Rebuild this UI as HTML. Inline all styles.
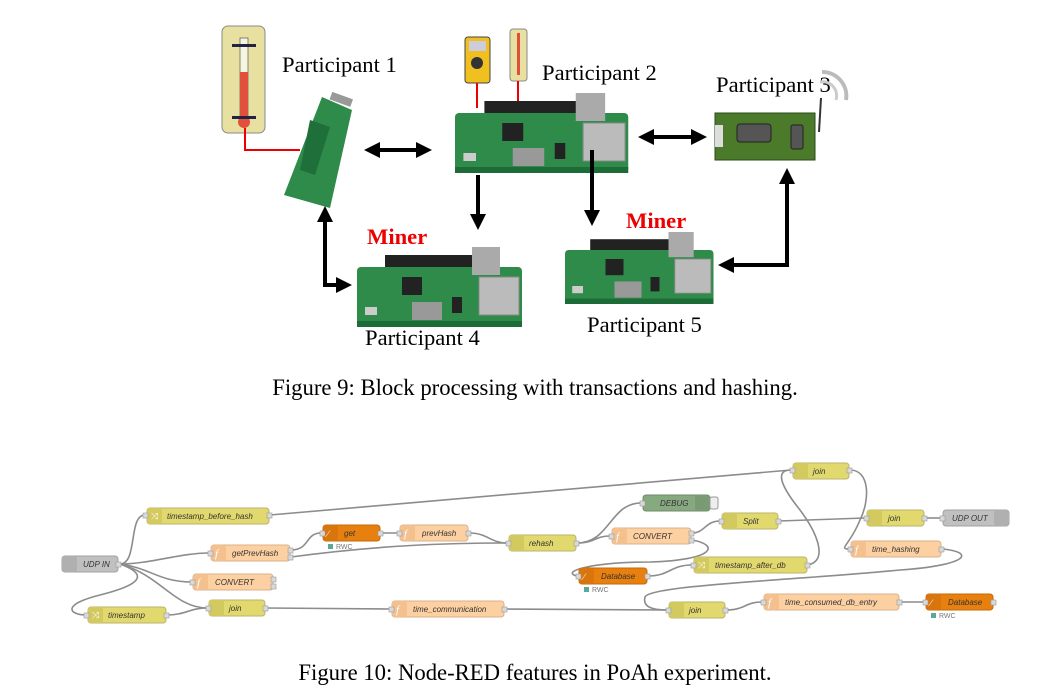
<!DOCTYPE html>
<html><head><meta charset="utf-8"><style>
html,body{margin:0;padding:0;background:#fff;width:1061px;height:691px;overflow:hidden}
svg{display:block}
.cap{font-family:"Liberation Serif",serif;font-size:22.7px;fill:#000}
.lbl{font-family:"Liberation Serif",serif;font-size:22.6px;fill:#000}
.miner{font-family:"Liberation Serif",serif;font-size:22.6px;font-weight:bold;fill:#e00}
.n{font-family:"Liberation Sans",sans-serif;font-size:8px;font-style:italic;fill:#333}
.w{fill:none;stroke:#8c8c8c;stroke-width:1.6}
.p{fill:#d9d9d9;stroke:#999;stroke-width:.6}
.r{font-family:"Liberation Sans",sans-serif;font-size:7px;fill:#777}
</style></head><body>
<svg width="1061" height="691" viewBox="0 0 1061 691">
<defs>
<marker id="ah" markerWidth="4" markerHeight="4" refX="2" refY="2" orient="auto-start-reverse" markerUnits="strokeWidth"><path d="M0,0 L4,2 L0,4 z" fill="#000"/></marker>
<g id="pi">
<rect x="0" y="20" width="165" height="60" rx="4" fill="#2e8b4a"/>
<rect x="0" y="74" width="165" height="6" fill="#1d6b36"/>
<rect x="28" y="8" width="95" height="12" fill="#222"/>
<rect x="115" y="0" width="28" height="28" fill="#aaa"/>
<rect x="122" y="30" width="40" height="38" fill="#bbb" stroke="#888"/>
<rect x="45" y="30" width="20" height="18" fill="#222"/>
<rect x="55" y="55" width="30" height="18" fill="#999"/>
<rect x="95" y="50" width="10" height="16" fill="#222"/>
<rect x="8" y="60" width="12" height="8" fill="#ccc"/>
</g>
</defs>

<rect x="222" y="26" width="43" height="107" rx="6" fill="#e8e0a0" stroke="#888"/>
<rect x="240" y="38" width="8" height="82" fill="#f5f5e0" stroke="#555" stroke-width=".7"/>
<rect x="240" y="72" width="8" height="50" fill="#e0503a"/>
<circle cx="244" cy="122" r="6" fill="#e0503a"/>
<rect x="232" y="44" width="24" height="3" fill="#224"/>
<rect x="232" y="116" width="24" height="3" fill="#224"/>
<polyline points="245,128 245,150 300,150" fill="none" stroke="#e00" stroke-width="2"/>
<text x="282" y="72" class="lbl">Participant 1</text>
<polygon points="322,97 352,110 330,208 284,195" fill="#2e8b4a"/>
<polygon points="310,120 330,127 315,175 300,170" fill="#1f6f3a"/>
<rect x="330" y="95" width="22" height="8" fill="#999" transform="rotate(20 340 100)"/>
<line x1="372" y1="150" x2="424" y2="150" stroke="#000" stroke-width="4" marker-start="url(#ah)" marker-end="url(#ah)"/>
<rect x="465" y="37" width="25" height="46" rx="3" fill="#f0c020" stroke="#444"/>
<rect x="469" y="41" width="17" height="10" fill="#ccd"/>
<circle cx="477" cy="63" r="6" fill="#333"/>
<rect x="510" y="29" width="17" height="52" rx="3" fill="#e8e0a0" stroke="#888"/>
<rect x="517" y="33" width="3" height="42" fill="#e0503a"/>
<line x1="477" y1="83" x2="477" y2="108" stroke="#e00" stroke-width="2"/>
<line x1="518" y1="81" x2="518" y2="108" stroke="#e00" stroke-width="2"/>
<text x="542" y="80" class="lbl">Participant 2</text>
<use href="#pi" transform="translate(455,93) scale(1.05,1)"/>
<line x1="646" y1="137" x2="699" y2="137" stroke="#000" stroke-width="4" marker-start="url(#ah)" marker-end="url(#ah)"/>
<text x="716" y="92" class="lbl">Participant 3</text>
<path d="M822,72 A24,24 0 0 1 846,100" fill="none" stroke="#bbb" stroke-width="4"/>
<path d="M820,82 A14,14 0 0 1 836,100" fill="none" stroke="#ccc" stroke-width="3"/>
<line x1="821" y1="98" x2="819" y2="132" stroke="#333" stroke-width="2"/>
<rect x="715" y="113" width="100" height="47" fill="#4a7a2a" stroke="#2b4a18"/>
<rect x="715" y="125" width="8" height="22" fill="#ddd"/>
<rect x="737" y="124" width="34" height="18" rx="3" fill="#555" stroke="#222"/>
<rect x="791" y="125" width="12" height="24" rx="2" fill="#555" stroke="#222"/>
<line x1="478" y1="175" x2="478" y2="222" stroke="#000" stroke-width="4" marker-end="url(#ah)"/>
<line x1="592" y1="150" x2="592" y2="218" stroke="#000" stroke-width="4" marker-end="url(#ah)"/>
<text x="367" y="244" class="miner">Miner</text>
<use href="#pi" transform="translate(357,247)"/>
<text x="365" y="345" class="lbl">Participant 4</text>
<text x="626" y="228" class="miner">Miner</text>
<use href="#pi" transform="translate(565,232) scale(0.9,0.9)"/>
<text x="587" y="332" class="lbl">Participant 5</text>
<polyline points="325,214 325,285 344,285" fill="none" stroke="#000" stroke-width="4" marker-start="url(#ah)" marker-end="url(#ah)"/>
<polyline points="787,176 787,265 726,265" fill="none" stroke="#000" stroke-width="4" marker-start="url(#ah)" marker-end="url(#ah)"/>

<text x="535" y="395" class="cap" text-anchor="middle">Figure 9: Block processing with transactions and hashing.</text>

<path class="w" d="M120,564 C138,564 128,515 145,515"/>
<path class="w" d="M120,564 C150,564 180,553 209,553"/>
<path class="w" d="M120,564 C150,568 160,582 191,582"/>
<path class="w" d="M120,564 C160,575 175,608 207,608"/>
<path class="w" d="M120,564 C150,575 140,585 100,595 C60,605 70,615 86,615"/>
<path class="w" d="M167,615 C185,615 190,608 207,608"/>
<path class="w" d="M270,515 L791,470"/>
<path class="w" d="M291,550 C310,550 305,533 321,533"/>
<path class="w" d="M291,557 C380,545 450,543 507,543"/>
<path class="w" d="M381,533 L398,533"/>
<path class="w" d="M469,533 C488,533 490,543 507,543"/>
<path class="w" d="M577,543 C610,543 610,503 641,503"/>
<path class="w" d="M577,543 C595,543 595,536 610,536"/>
<path class="w" d="M692,533 C705,533 705,521 720,521"/>
<path class="w" d="M692,540 C720,545 715,560 650,562 C590,562 560,572 577,576"/>
<path class="w" d="M648,576 C670,576 670,565 692,565"/>
<path class="w" d="M808,565 C830,560 815,530 800,510 C780,485 775,470 791,470"/>
<path class="w" d="M850,470 C870,470 870,500 860,520 C850,545 838,549 849,549"/>
<path class="w" d="M779,521 L865,518"/>
<path class="w" d="M925,518 L941,518"/>
<path class="w" d="M942,549 C975,552 970,565 900,570 C800,580 650,585 645,597 C642,608 655,610 667,610"/>
<path class="w" d="M505,609 L667,610"/>
<path class="w" d="M266,608 L390,609"/>
<path class="w" d="M726,610 C745,610 745,602 762,602"/>
<path class="w" d="M900,602 L924,602"/>

<g>
<rect x="147" y="508" width="122" height="16" rx="3" fill="#e2d96e" stroke="#bbb36a"/><rect x="147" y="508" width="15" height="16" rx="3" fill="#d3ca5f"/><text x="151" y="519" font-size="9" fill="#fff">⤨</text><text x="167" y="519" class="n">timestamp_before_hash</text>
<rect x="88" y="607" width="78" height="16" rx="3" fill="#e2d96e" stroke="#bbb36a"/><rect x="88" y="607" width="15" height="16" rx="3" fill="#d3ca5f"/><text x="92" y="618" font-size="9" fill="#fff">⤨</text><text x="108" y="618" class="n">timestamp</text>
<rect x="209" y="600" width="56" height="16" rx="3" fill="#e2d96e" stroke="#bbb36a"/><rect x="209" y="600" width="15" height="16" rx="3" fill="#d3ca5f"/><text x="229" y="611" class="n">join</text>
<rect x="509" y="535" width="67" height="16" rx="3" fill="#e2d96e" stroke="#bbb36a"/><rect x="509" y="535" width="15" height="16" rx="3" fill="#d3ca5f"/><text x="529" y="546" class="n">rehash</text>
<rect x="793" y="463" width="56" height="16" rx="3" fill="#e2d96e" stroke="#bbb36a"/><rect x="793" y="463" width="15" height="16" rx="3" fill="#d3ca5f"/><text x="813" y="474" class="n">join</text>
<rect x="722" y="513" width="56" height="16" rx="3" fill="#e2d96e" stroke="#bbb36a"/><rect x="722" y="513" width="15" height="16" rx="3" fill="#d3ca5f"/><text x="743" y="524" class="n">Split</text>
<rect x="867" y="510" width="57" height="16" rx="3" fill="#e2d96e" stroke="#bbb36a"/><rect x="867" y="510" width="15" height="16" rx="3" fill="#d3ca5f"/><text x="888" y="521" class="n">join</text>
<rect x="694" y="557" width="113" height="16" rx="3" fill="#e2d96e" stroke="#bbb36a"/><rect x="694" y="557" width="15" height="16" rx="3" fill="#d3ca5f"/><text x="698" y="568" font-size="9" fill="#fff">⤨</text><text x="715" y="568" class="n">timestamp_after_db</text>
<rect x="669" y="602" width="56" height="16" rx="3" fill="#e2d96e" stroke="#bbb36a"/><rect x="669" y="602" width="15" height="16" rx="3" fill="#d3ca5f"/><text x="689" y="613" class="n">join</text>
<rect x="211" y="545" width="79" height="16" rx="3" fill="#fdd0a2" stroke="#d9b08a"/><rect x="211" y="545" width="15" height="16" rx="3" fill="#f3c08e"/><text x="215" y="557" font-size="11" fill="#fff" font-style="italic">f</text><text x="232" y="556" class="n">getPrevHash</text>
<rect x="193" y="574" width="80" height="16" rx="3" fill="#fdd0a2" stroke="#d9b08a"/><rect x="193" y="574" width="15" height="16" rx="3" fill="#f3c08e"/><text x="197" y="586" font-size="11" fill="#fff" font-style="italic">f</text><text x="215" y="585" class="n">CONVERT</text>
<rect x="400" y="525" width="68" height="16" rx="3" fill="#fdd0a2" stroke="#d9b08a"/><rect x="400" y="525" width="15" height="16" rx="3" fill="#f3c08e"/><text x="404" y="537" font-size="11" fill="#fff" font-style="italic">f</text><text x="422" y="536" class="n">prevHash</text>
<rect x="392" y="601" width="112" height="16" rx="3" fill="#fdd0a2" stroke="#d9b08a"/><rect x="392" y="601" width="15" height="16" rx="3" fill="#f3c08e"/><text x="396" y="613" font-size="11" fill="#fff" font-style="italic">f</text><text x="413" y="612" class="n">time_communication</text>
<rect x="612" y="528" width="79" height="16" rx="3" fill="#fdd0a2" stroke="#d9b08a"/><rect x="612" y="528" width="15" height="16" rx="3" fill="#f3c08e"/><text x="616" y="540" font-size="11" fill="#fff" font-style="italic">f</text><text x="633" y="539" class="n">CONVERT</text>
<rect x="851" y="541" width="90" height="16" rx="3" fill="#fdd0a2" stroke="#d9b08a"/><rect x="851" y="541" width="15" height="16" rx="3" fill="#f3c08e"/><text x="855" y="553" font-size="11" fill="#fff" font-style="italic">f</text><text x="872" y="552" class="n">time_hashing</text>
<rect x="764" y="594" width="135" height="16" rx="3" fill="#fdd0a2" stroke="#d9b08a"/><rect x="764" y="594" width="15" height="16" rx="3" fill="#f3c08e"/><text x="768" y="606" font-size="11" fill="#fff" font-style="italic">f</text><text x="785" y="605" class="n">time_consumed_db_entry</text>
<rect x="323" y="525" width="57" height="16" rx="3" fill="#e8800f" stroke="#c46a0a"/><rect x="323" y="525" width="15" height="16" rx="3" fill="#d8760d"/><text x="327" y="537" font-size="10" fill="#fff">∕</text><text x="344" y="536" class="n">get</text>
<rect x="328" y="544" width="5" height="5" fill="#5a9"/><text x="336" y="549" class="r">RWC</text>
<rect x="579" y="568" width="68" height="16" rx="3" fill="#e8800f" stroke="#c46a0a"/><rect x="579" y="568" width="15" height="16" rx="3" fill="#d8760d"/><text x="583" y="580" font-size="10" fill="#fff">∕</text><text x="601" y="579" class="n">Database</text>
<rect x="584" y="587" width="5" height="5" fill="#5a9"/><text x="592" y="592" class="r">RWC</text>
<rect x="926" y="594" width="67" height="16" rx="3" fill="#e8800f" stroke="#c46a0a"/><rect x="926" y="594" width="15" height="16" rx="3" fill="#d8760d"/><text x="930" y="606" font-size="10" fill="#fff">∕</text><text x="948" y="605" class="n">Database</text>
<rect x="931" y="613" width="5" height="5" fill="#5a9"/><text x="939" y="618" class="r">RWC</text>
<rect x="62" y="556" width="56" height="16" rx="3" fill="#c0c0c0" stroke="#a0a0a0"/><rect x="62" y="556" width="15" height="16" rx="3" fill="#b0b0b0"/><text x="83" y="567" class="n">UDP IN</text>
<rect x="943" y="510" width="66" height="16" rx="3" fill="#c0c0c0" stroke="#a0a0a0"/><rect x="994" y="510" width="15" height="16" rx="3" fill="#b0b0b0"/><text x="952" y="521" class="n">UDP OUT</text>
<rect x="643" y="495" width="67" height="16" rx="3" fill="#87a980" stroke="#6f8c69"/><rect x="695" y="495" width="15" height="16" rx="3" fill="#7a9a73"/><rect x="710" y="497" width="8" height="12" rx="2" fill="#eee" stroke="#999"/><text x="660" y="506" class="n">DEBUG</text>
</g>
<g>
<rect class="p" x="143" y="513" width="5" height="5"/><rect class="p" x="267" y="513" width="5" height="5"/>
<rect class="p" x="84" y="613" width="5" height="5"/><rect class="p" x="164" y="613" width="5" height="5"/>
<rect class="p" x="206" y="606" width="5" height="5"/><rect class="p" x="263" y="606" width="5" height="5"/>
<rect class="p" x="506" y="541" width="5" height="5"/><rect class="p" x="574" y="541" width="5" height="5"/>
<rect class="p" x="790" y="468" width="5" height="5"/><rect class="p" x="847" y="468" width="5" height="5"/>
<rect class="p" x="719" y="519" width="5" height="5"/><rect class="p" x="776" y="519" width="5" height="5"/>
<rect class="p" x="864" y="516" width="5" height="5"/><rect class="p" x="922" y="516" width="5" height="5"/>
<rect class="p" x="691" y="563" width="5" height="5"/><rect class="p" x="805" y="563" width="5" height="5"/>
<rect class="p" x="666" y="608" width="5" height="5"/><rect class="p" x="723" y="608" width="5" height="5"/>
<rect class="p" x="208" y="551" width="5" height="5"/><rect class="p" x="288" y="548" width="5" height="5"/><rect class="p" x="288" y="555" width="5" height="5"/>
<rect class="p" x="190" y="580" width="5" height="5"/><rect class="p" x="271" y="577" width="5" height="5"/><rect class="p" x="271" y="584" width="5" height="5"/>
<rect class="p" x="397" y="531" width="5" height="5"/><rect class="p" x="466" y="531" width="5" height="5"/>
<rect class="p" x="389" y="607" width="5" height="5"/><rect class="p" x="502" y="607" width="5" height="5"/>
<rect class="p" x="609" y="534" width="5" height="5"/><rect class="p" x="689" y="531" width="5" height="5"/><rect class="p" x="689" y="538" width="5" height="5"/>
<rect class="p" x="848" y="547" width="5" height="5"/><rect class="p" x="939" y="547" width="5" height="5"/>
<rect class="p" x="761" y="600" width="5" height="5"/><rect class="p" x="897" y="600" width="5" height="5"/>
<rect class="p" x="320" y="531" width="5" height="5"/><rect class="p" x="378" y="531" width="5" height="5"/>
<rect class="p" x="576" y="574" width="5" height="5"/><rect class="p" x="645" y="574" width="5" height="5"/>
<rect class="p" x="923" y="600" width="5" height="5"/><rect class="p" x="991" y="600" width="5" height="5"/>
<rect class="p" x="116" y="562" width="5" height="5"/><rect class="p" x="940" y="516" width="5" height="5"/>
<rect class="p" x="640" y="501" width="5" height="5"/>
</g>

<text x="535" y="680" class="cap" text-anchor="middle">Figure 10: Node-RED features in PoAh experiment.</text>
</svg>
</body></html>
